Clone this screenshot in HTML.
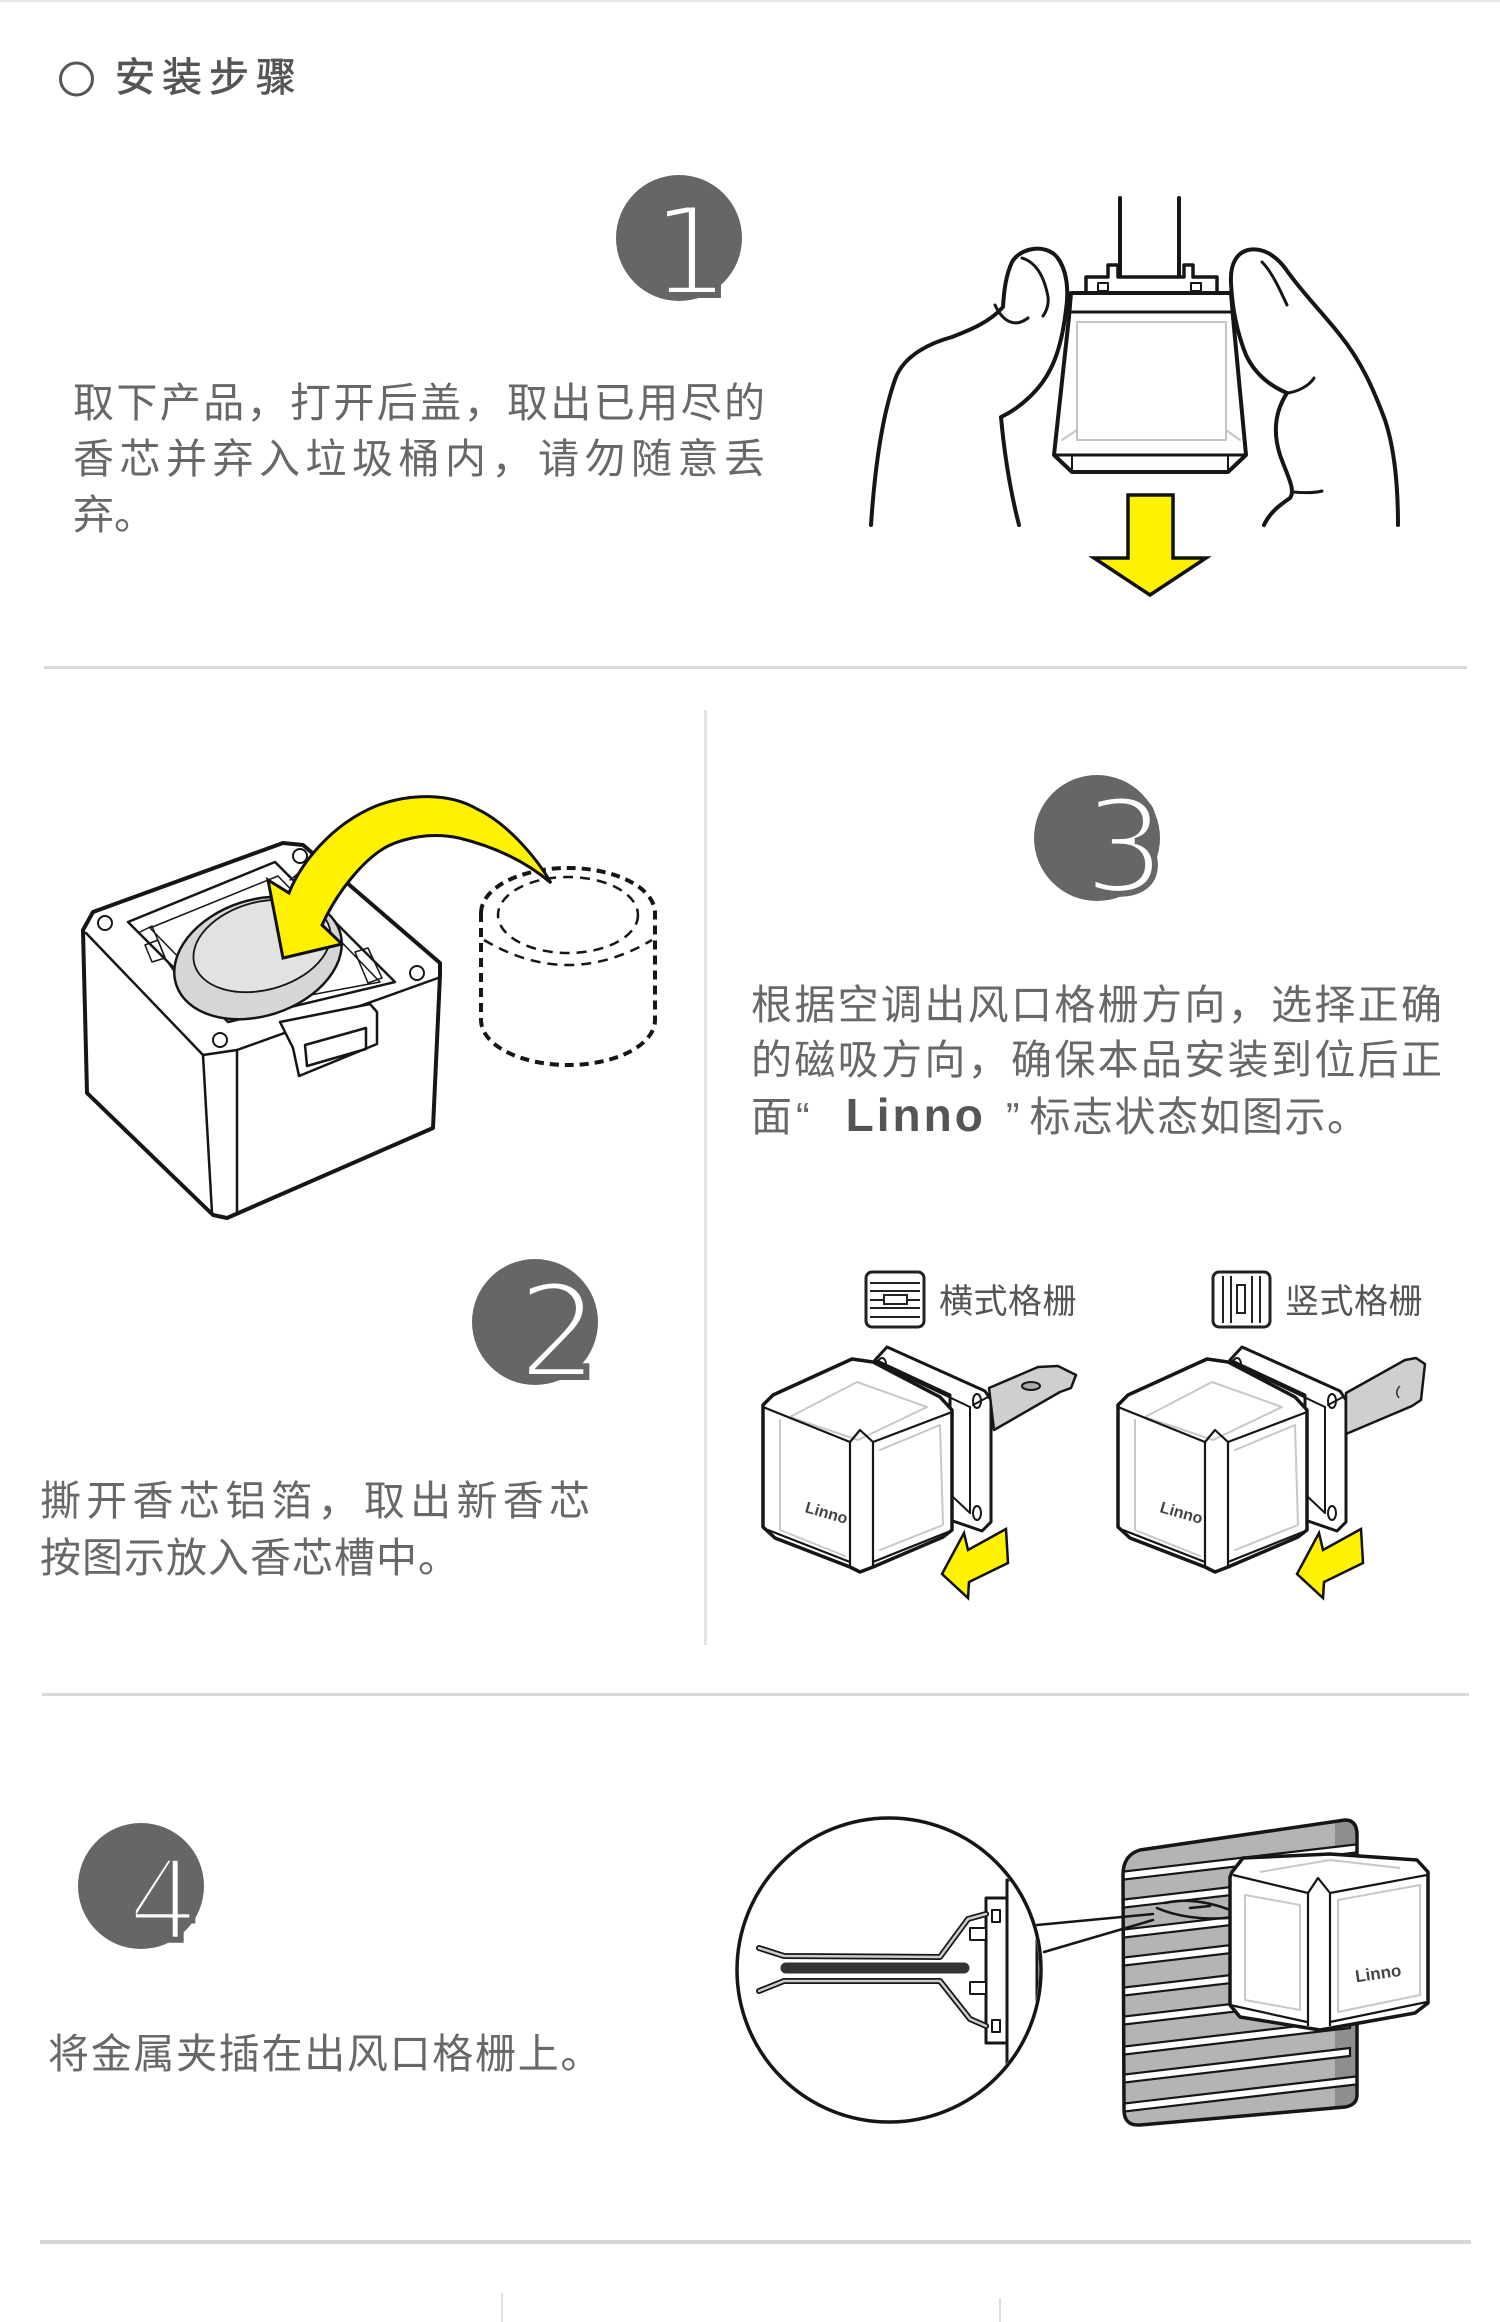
<!DOCTYPE html>
<html><head><meta charset="utf-8">
<style>
html,body{margin:0;padding:0;background:#fff;}
body{width:1500px;height:2322px;position:relative;overflow:hidden;font-family:"Liberation Sans","Noto Sans CJK SC",sans-serif;}
svg{position:absolute;left:0;top:0;}
.t{position:absolute;color:#686868;font-size:41px;line-height:56px;font-family:"Liberation Sans","Noto Sans CJK SC",sans-serif;white-space:nowrap;}
.j{text-align:justify;text-align-last:justify;white-space:normal;}
.lab{position:absolute;color:#555;font-size:34px;line-height:40px;letter-spacing:0.5px;font-family:"Liberation Sans","Noto Sans CJK SC",sans-serif;white-space:nowrap;}
.linno{font-family:"Liberation Sans",sans-serif;font-weight:bold;font-size:46px;letter-spacing:3px;color:#555;}
</style></head><body>
<svg width="1500" height="2322" viewBox="0 0 1500 2322" xmlns="http://www.w3.org/2000/svg">
<defs>
<clipPath id="mag"><circle cx="889" cy="1970" r="150"/></clipPath>
<clipPath id="pnl"><path d="M1123,1875 Q1123,1855 1140,1850 L1345,1820 Q1357,1820 1357,1835 L1357,2095 Q1357,2105 1345,2107 L1140,2125 Q1124,2126 1124,2110 Z"/></clipPath>
</defs>
<!-- top line & dividers -->
<rect x="0" y="0" width="1500" height="2" fill="#e6e6e6"/>
<rect x="44" y="666" width="1423" height="3" fill="#d9d9d9"/>
<rect x="704" y="710" width="3" height="935" fill="#e2e2e2"/>
<rect x="42" y="1693" width="1427" height="3" fill="#d9d9d9"/>
<rect x="40" y="2240" width="1431" height="4" fill="#d6d6d6"/>
<rect x="501" y="2293" width="2" height="29" fill="#dedede"/>
<rect x="999" y="2298" width="2" height="24" fill="#dedede"/>

<!-- title circle -->
<circle cx="76.5" cy="79" r="16" fill="none" stroke="#555" stroke-width="3"/>

<!-- number circles -->
<g font-family="DejaVu Sans, Liberation Sans, sans-serif" fill="#fff" stroke="#666" stroke-width="6" text-anchor="middle">
<circle cx="679" cy="238" r="63" fill="#666" stroke="none"/>
<text x="690" y="295" font-size="124">1</text>
<circle cx="535" cy="1322" r="63" fill="#666" stroke="none"/>
<text x="558" y="1377" font-size="130">2</text>
<circle cx="1097" cy="838" r="63" fill="#666" stroke="none"/>
<text x="1124" y="892" font-size="130">3</text>
<circle cx="141" cy="1886" r="63" fill="#666" stroke="none"/>
<text x="163" y="1940" font-size="112">4</text>
</g>

<!-- STEP 1 illustration -->
<g stroke="#161616" stroke-width="4" fill="none" stroke-linecap="round" stroke-linejoin="round">
<line x1="1120" y1="198" x2="1120" y2="280"/>
<line x1="1179" y1="198" x2="1179" y2="280"/>
<path d="M1086,293 L1086,277 L1108,277 L1108,265 L1118,265 L1118,277 L1184,277 L1184,265 L1193,265 L1193,277 L1217,277 L1217,293" fill="#fff" stroke-width="3.5"/>
<rect x="1098" y="283" width="10" height="8" stroke-width="2"/>
<rect x="1191" y="283" width="10" height="8" stroke-width="2"/>
<path d="M1071,293 L1231,293 L1233,317 L1246,455 L1228,472 L1072,472 L1054,455 L1069,317 Z" fill="#fff"/>
<line x1="1070" y1="312" x2="1232" y2="312" stroke-width="3"/>
<line x1="1054" y1="455" x2="1246" y2="455" stroke-width="3"/>
<line x1="1072" y1="455" x2="1072" y2="470" stroke-width="2"/>
<line x1="1228" y1="455" x2="1228" y2="470" stroke-width="2"/>
<g stroke="#c4c4c4" stroke-width="2"><rect x="1077" y="322" width="149" height="118"/><line x1="1062" y1="440" x2="1077" y2="430"/><line x1="1240" y1="440" x2="1226" y2="430"/></g>
<path d="M871,525 C874,480 880,420 896,377 C905,355 930,343 952,337 C970,330 990,322 1003,307 C1004,290 1006,275 1012,262 C1020,248 1045,243 1057,257 C1067,270 1069,290 1066,310 C1063,335 1058,355 1050,370 C1040,390 1020,408 1001,417 C1004,450 1010,490 1019,525"/>
<path d="M995,305 C1003,322 1015,328 1028,318" stroke-width="3"/>
<path d="M1022,258 C1035,262 1044,275 1048,297 C1049,305 1046,312 1043,316" stroke-width="3"/>
<path d="M1398,525 C1398,490 1395,450 1385,420 C1372,385 1360,360 1340,335 C1320,310 1300,290 1285,268 C1275,255 1262,247 1248,250 C1236,253 1230,265 1231,283 C1232,305 1236,330 1246,355 C1254,372 1268,385 1287,393 C1276,410 1272,430 1280,455 C1287,475 1296,490 1290,498 C1280,505 1270,512 1264,525"/>
<path d="M1287,393 C1298,392 1310,385 1314,378" stroke-width="3"/>
<path d="M1293,492 C1305,493 1315,493 1322,491" stroke-width="3"/>
<path d="M1262,262 C1272,272 1280,290 1287,305" stroke-width="3"/>
</g>
<polygon points="1128,495 1173,495 1173,558 1206,558 1150,595 1094,558 1128,558" fill="#fff200" stroke="#111" stroke-width="3.5" stroke-linejoin="miter"/>

<!-- STEP 2 illustration -->
<g stroke="#161616" stroke-width="3.5" fill="none" stroke-linejoin="round" stroke-linecap="round">
<path d="M83,930 L93,912 L283,843 L303,845 L440,963 L440,975 L433,1128 L227,1218 L213,1215 L87,1093 Z" fill="#fff" stroke-width="4"/>
<path d="M86,933 L203,1055 L237,1050 L438,978" stroke-width="2.5"/>
<line x1="203" y1="1055" x2="212" y2="1213" stroke-width="2.5"/>
<line x1="237" y1="1050" x2="237" y2="1213" stroke-width="2.5"/>
<path d="M128,922 L275,862 L395,982 L228,1022 Z" stroke-width="2.5"/>
<path d="M150,928 L278,876 L380,982 L230,1010 Z" stroke-width="1.5"/>
<path d="M140,932 L152,926 L166,960 L200,1008" stroke-width="1.5"/>
<path d="M145,945 L158,940 L165,958 L152,962 Z" stroke-width="1.5"/>
<path d="M355,952 L368,948 L382,978 L368,983 Z" stroke-width="1.5"/>
<path d="M290,880 L300,872 L310,885" stroke-width="1.5"/>
<circle cx="105" cy="923" r="7" stroke-width="2"/>
<circle cx="300" cy="856" r="7" stroke-width="2"/>
<circle cx="417" cy="973" r="7" stroke-width="2"/>
<circle cx="220" cy="1040" r="7" stroke-width="2"/>
<ellipse cx="258" cy="958" rx="86" ry="58" transform="rotate(-18 258 958)" fill="#d6d6d6" stroke-width="2.5"/>
<ellipse cx="262" cy="946" rx="70" ry="44" transform="rotate(-15 262 946)" fill="#e2e2e2" stroke-width="1.8"/>
<path d="M280,1022 L370,1004 L377,1012 L377,1044 L299,1076 L293,1048 Z" fill="#fff" stroke-width="2.5"/>
<path d="M305,1045 L366,1028 L366,1049 L307,1066 Z" stroke-width="2.5"/>
<!-- dashed cylinder -->
<path d="M481,913 A87,45 0 0 1 655,913 L655,1020 A87,45 0 0 1 481,1020 Z" stroke-width="4" stroke-dasharray="9,6" stroke-linecap="butt"/>
<ellipse cx="568" cy="915" rx="70" ry="38" stroke-width="2.5" stroke-dasharray="10,7" stroke-linecap="butt"/>
<path d="M484,940 Q568,990 652,940" stroke-width="2.5" stroke-dasharray="10,7" stroke-linecap="butt"/>
</g>
<path d="M268,880 L289,893 C300,865 330,825 376,806 C410,793 450,793 477,809 C505,822 535,855 551,883 C530,865 500,848 459,838 C430,832 405,838 388,846 C365,858 338,890 322,925 L342,944 L283,958 Z" fill="#fff200" stroke="#111" stroke-width="3" stroke-linejoin="miter"/>

<!-- STEP 3 icons -->
<g stroke="#222" fill="none">
<rect x="866" y="1272" width="58" height="55" rx="6" stroke-width="3" fill="#fff"/>
<g stroke-width="2"><line x1="870" y1="1283" x2="920" y2="1283"/><line x1="870" y1="1291" x2="920" y2="1291"/><line x1="870" y1="1300" x2="884" y2="1300"/><line x1="907" y1="1300" x2="920" y2="1300"/><line x1="870" y1="1308" x2="920" y2="1308"/><line x1="870" y1="1317" x2="920" y2="1317"/></g>
<rect x="884" y="1295" width="23" height="9" stroke-width="2" fill="#fff"/>
<rect x="1213" y="1272" width="57" height="55" rx="6" stroke-width="3" fill="#fff"/>
<g stroke-width="2"><line x1="1223" y1="1276" x2="1223" y2="1323"/><line x1="1231" y1="1276" x2="1231" y2="1323"/><line x1="1252" y1="1276" x2="1252" y2="1323"/><line x1="1260" y1="1276" x2="1260" y2="1323"/></g>
<rect x="1237" y="1285" width="8" height="28" stroke-width="2" fill="#fff"/>
</g>

<!-- STEP 3 cube 1 -->
<g id="c1" stroke="#161616" stroke-linejoin="round" stroke-linecap="round">
<polygon points="875,1360 887,1347 985,1391 991,1400 991,1522 982,1531 950,1520 950,1395" fill="#fff" stroke-width="3"/>
<g fill="none" stroke-width="2"><line x1="875" y1="1362" x2="970" y2="1407"/><line x1="970" y1="1407" x2="970" y2="1513"/><line x1="973" y1="1405" x2="988" y2="1397"/><line x1="953" y1="1497" x2="970" y2="1513"/></g>
<ellipse cx="882" cy="1364" rx="4" ry="6" fill="none" stroke-width="2"/>
<ellipse cx="977" cy="1401" rx="4" ry="7" fill="none" stroke-width="2"/>
<ellipse cx="977" cy="1513" rx="4" ry="7" fill="none" stroke-width="2"/>
<polygon points="852,1359 873,1362 940,1397 952,1410 952,1530 943,1537 873,1567 860,1572 850,1567 775,1538 763,1527 763,1405 773,1395" fill="#fff" stroke-width="3.5"/>
<g fill="none" stroke="#c8c8c8" stroke-width="2">
<polygon points="790,1417 857,1382 927,1407 858,1440"/>
<path d="M780,1420 L780,1530 L845,1556"/>
<path d="M880,1450 L940,1425 L943,1525 L880,1550"/>
</g>
<g fill="none" stroke-width="2.2">
<path d="M763,1407 L850,1442 L860,1430 L873,1442 L952,1412"/>
<line x1="850" y1="1442" x2="850" y2="1567"/>
<line x1="873" y1="1442" x2="873" y2="1567"/>
<path d="M768,1530 L850,1562"/><path d="M873,1562 L948,1532"/>
</g>
<text x="825" y="1518" transform="rotate(16 825 1518)" font-family="Liberation Sans, sans-serif" font-size="16" font-weight="bold" fill="#444" stroke="none" text-anchor="middle">Linno</text>
<polygon points="1006,1529 968,1550 964,1533 942,1574 968,1598 969,1582 1008,1563" fill="#fff200" stroke="#111" stroke-width="2.5" stroke-linejoin="miter"/>
</g>
<polygon points="989,1388 1038,1367 1058,1366 1076,1375 1071,1388 1060,1392 994,1430" fill="#cfcfcf" stroke="#161616" stroke-width="2.5" stroke-linejoin="round"/>
<ellipse cx="1031" cy="1386" rx="9" ry="4" fill="#aaa" stroke="#161616" stroke-width="2"/>
<use href="#c1" transform="translate(355,0)"/>
<polygon points="1346,1393 1405,1360 1416,1358 1425,1364 1421,1400 1412,1406 1346,1434" fill="#cfcfcf" stroke="#161616" stroke-width="2.5" stroke-linejoin="round"/>
<path d="M1400,1386 Q1394,1392 1399,1398" fill="none" stroke="#333" stroke-width="1.5"/>

<!-- STEP 4 illustration -->
<g clip-path="url(#pnl)">
<rect x="1120" y="1810" width="240" height="320" fill="#b4b4b4"/>
<rect x="1335" y="1810" width="25" height="320" fill="#8e8e8e"/>
<g fill="#fff" stroke="#161616" stroke-width="2.2">
<polygon points="1120,1872 1360,1844 1360,1852 1120,1880"/>
<polygon points="1120,1900 1360,1872 1360,1880 1120,1908"/>
<polygon points="1120,1930 1360,1902 1360,1910 1120,1938"/>
<polygon points="1120,1958 1360,1930 1360,1938 1120,1966"/>
<polygon points="1120,1988 1360,1960 1360,1968 1120,1996"/>
<polygon points="1120,2017 1360,1989 1360,1997 1120,2025"/>
<polygon points="1120,2047 1350,2020 1350,2028 1120,2055"/>
<polygon points="1120,2075 1350,2048 1350,2056 1120,2083"/>
<polygon points="1120,2104 1360,2076 1360,2084 1120,2112"/>
</g>
</g>
<path d="M1123,1875 Q1123,1855 1140,1850 L1345,1820 Q1357,1820 1357,1835 L1357,2095 Q1357,2105 1345,2107 L1140,2125 Q1124,2126 1124,2110 Z" fill="none" stroke="#161616" stroke-width="3.5"/>
<g fill="none" stroke="#161616" stroke-width="2.5" stroke-linecap="round">
<path d="M1157,1908 C1175,1916 1200,1920 1228,1918"/>
<path d="M1165,1903 C1185,1898 1210,1902 1230,1910"/>
<path d="M1190,1908 L1210,1906"/>
<line x1="1037" y1="1925" x2="1153" y2="1914"/>
<line x1="1044" y1="1952" x2="1153" y2="1920"/>
</g>
<g stroke="#161616" stroke-linejoin="round">
<polygon points="1230,1877 1232,1872 1243,1858 1330,1854 1417,1860 1428,1872 1428,2003 1415,2013 1320,2030 1240,2017 1230,2005" fill="#fff" stroke-width="3.5"/>
<g fill="none" stroke="#c8c8c8" stroke-width="2"><path d="M1245,1895 L1300,1905 L1300,2010 L1245,2000 Z"/><path d="M1338,1900 L1420,1885 L1420,1995 L1338,2012 Z"/><path d="M1260,1872 L1330,1860 L1400,1868"/></g>
<g fill="none" stroke-width="2.2"><line x1="1308" y1="1893" x2="1308" y2="2026"/><line x1="1330" y1="1893" x2="1330" y2="2026"/><path d="M1233,1875 L1308,1893 L1318,1878 L1330,1893 L1427,1875"/><path d="M1230,2005 L1307,2022"/><path d="M1330,2022 L1427,2002"/></g>
<text x="1379" y="1979" transform="rotate(-8 1379 1979)" font-family="Liberation Sans, sans-serif" font-size="17" font-weight="bold" fill="#444" stroke="none" text-anchor="middle">Linno</text>
</g>
<circle cx="889" cy="1970" r="152" fill="#fff" stroke="#161616" stroke-width="3.5"/>
<g clip-path="url(#mag)" stroke="#161616" stroke-linejoin="round" stroke-linecap="round">
<rect x="1007" y="1880" width="30" height="190" fill="#fff" stroke-width="3"/>
<rect x="986" y="1898" width="21" height="145" fill="#fff" stroke-width="3"/>
<rect x="970" y="1928" width="16" height="12" fill="#fff" stroke-width="2"/>
<rect x="970" y="1982" width="16" height="12" fill="#fff" stroke-width="2"/>
<rect x="992" y="1910" width="8" height="12" fill="none" stroke-width="2"/>
<rect x="992" y="2020" width="8" height="12" fill="none" stroke-width="2"/>
<g fill="none">
<path d="M759,1948 L784,1956 L940,1957 L968,1919 L986,1914" stroke-width="6"/>
<path d="M759,1948 L784,1956 L940,1957 L968,1919 L986,1914" stroke="#ccc" stroke-width="2.5"/>
<path d="M759,1991 L784,1981 L940,1981 L970,2019 L986,2026" stroke-width="6"/>
<path d="M759,1991 L784,1981 L940,1981 L970,2019 L986,2026" stroke="#ccc" stroke-width="2.5"/>
<line x1="786" y1="1968" x2="964" y2="1968" stroke="#333" stroke-width="11"/>
</g>
</g>
</svg>

<div class="t" style="left:115px;top:50px;font-size:40px;letter-spacing:7px;color:#555;-webkit-text-stroke:0.7px #555;">安装步骤</div>

<div class="t j" style="left:73px;top:375px;width:692px;">取下产品，打开后盖，取出已用尽的</div>
<div class="t j" style="left:73px;top:431px;width:692px;">香芯并弃入垃圾桶内，请勿随意丢</div>
<div class="t" style="left:73px;top:487px;">弃。</div>

<div class="t j" style="left:40px;top:1473px;width:550px;">撕开香芯铝箔，取出新香芯</div>
<div class="t" style="left:40px;top:1530px;letter-spacing:1px;">按图示放入香芯槽中。</div>

<div class="t j" style="left:751px;top:977px;width:691px;">根据空调出风口格栅方向，选择正确</div>
<div class="t j" style="left:751px;top:1032px;width:691px;">的磁吸方向，确保本品安装到位后正</div>
<div class="t" style="left:751px;top:1087px;">面<span style="margin-left:4px">“</span><span class="linno" style="margin-left:36px">Linno</span><span style="margin-left:20px">”</span><span style="margin-left:10px;letter-spacing:1.5px">标志状态如图示。</span></div>

<div class="lab" style="left:939px;top:1282px;">横式格栅</div>
<div class="lab" style="left:1285px;top:1282px;">竖式格栅</div>

<div class="t" style="left:48px;top:2026px;letter-spacing:1.7px;">将金属夹插在出风口格栅上。</div>
</body></html>
